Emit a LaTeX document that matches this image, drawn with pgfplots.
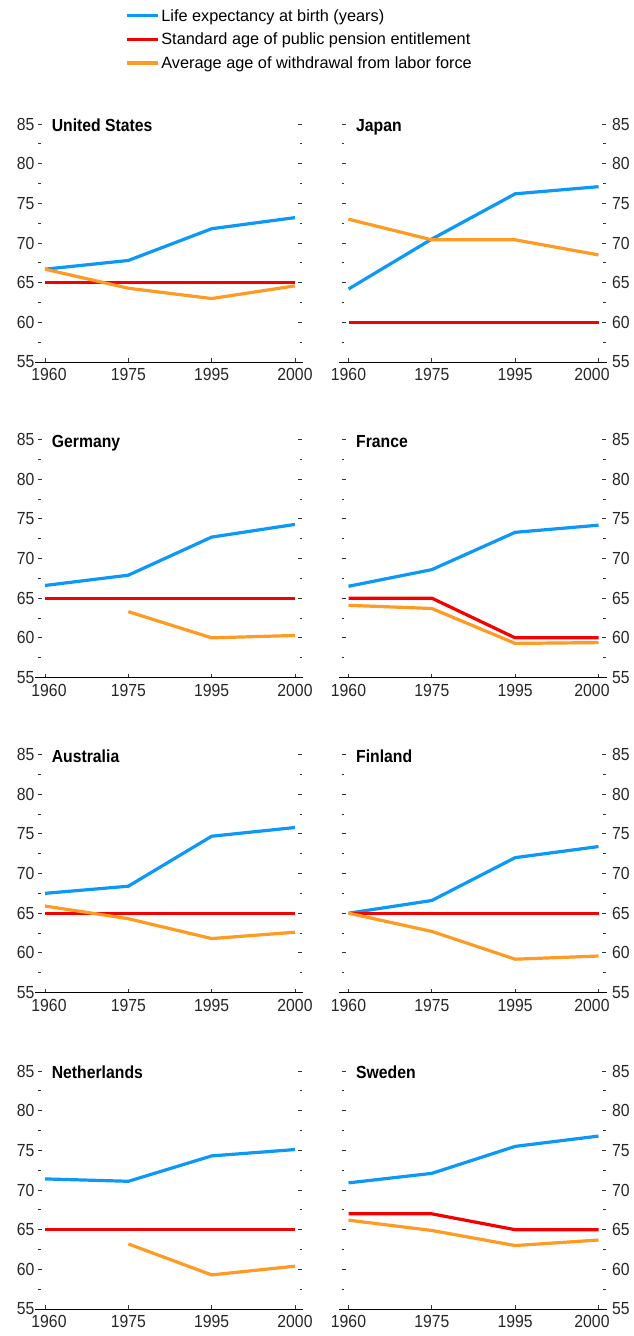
\documentclass[border=0pt]{standalone}
\usepackage{fontspec}
\setmainfont{Liberation Sans}
\newfontfamily\nfont[FakeStretch=0.9]{Liberation Sans}
\usepackage{pgfplots}
\pgfplotsset{compat=1.18}
\definecolor{cblue}{RGB}{12,152,248}
\definecolor{cred}{RGB}{245,0,0}
\definecolor{corange}{RGB}{255,154,34}
\newcommand{\fs}{\fontsize{16.3}{19.5}\selectfont}
\newcommand{\tfs}{\nfont\fontsize{17.5}{20}\selectfont}
\pgfplotsset{
  panel/.style={
    scale only axis, width=264pt, height=238pt,
    xmin=-0.084, xmax=3.084, ymin=55, ymax=85,
    xtick={0,1,2,3},
    ytick={55,60,...,85}, minor ytick={57.5,62.5,...,82.5},
    separate axis lines,
    axis x line=bottom, x axis line style={-, black, line width=1pt, shorten <=-3pt, shorten >=-1pt},
    axis y line=box, y axis line style={draw=none},
    tick align=inside,
    major tick length=4pt, minor tick length=2.5pt,
    tick style={black!80, line width=0.9pt},
    tick label style={font=\tfs, text=black!85},
    xticklabel style={yshift=-3pt},
    /pgf/number format/assume math mode=true,
    clip=false,
    every axis plot/.append style={line width=3.2pt},
  },
  leftpanel/.style={panel, yticklabel pos=left,
    xticklabels={\hspace*{8pt}1960,1975,1995,2000}},
  rightpanel/.style={panel, yticklabel pos=right, yticklabel style={xshift=3pt},
    xticklabels={1960,1975,1995,2000\hspace*{13pt}}},
}
\newcommand{\ttl}[2]{\node[anchor=base west, inner sep=0pt, font=\tfs\bfseries] at (axis cs:#1,84.0) {#2};}
\begin{document}
\begin{tikzpicture}
\useasboundingbox (0,0) rectangle (633pt,-1336pt);
% ---- Row 1 ----
\begin{axis}[leftpanel, at={(38pt,-362pt)}, anchor=south west,
  legend style={at={(axis description cs:0.318,1.50)}, anchor=north west, draw=none, fill=none,
    font=\fs, row sep=6.3pt},
  legend cell align=left,
  legend image code/.code={\draw[#1,line width=3.2pt] (0pt,0pt) -- (31pt,0pt);}]
\addplot[cblue] coordinates {(0,66.7) (1,67.8) (2,71.8) (3,73.2)};
\addlegendentry{Life expectancy at birth (years)}
\addplot[cred] coordinates {(0,65) (1,65) (2,65) (3,65)};
\addlegendentry{Standard age of public pension entitlement}
\addplot[corange] coordinates {(0,66.7) (1,64.3) (2,63.0) (3,64.6)};
\addlegendentry{Average age of withdrawal from labor force}
\ttl{0.08}{United States}
\end{axis}
\begin{axis}[rightpanel, at={(341.5pt,-362pt)}, anchor=south west]
\addplot[cblue] coordinates {(0,64.2) (1,70.5) (2,76.2) (3,77.1)};
\addplot[cred] coordinates {(0,60) (1,60) (2,60) (3,60)};
\addplot[corange] coordinates {(0,73.0) (1,70.4) (2,70.4) (3,68.5)};
\ttl{0.09}{Japan}
\end{axis}
% ---- Row 2 ----
\begin{axis}[leftpanel, at={(38pt,-677.5pt)}, anchor=south west]
\addplot[cblue] coordinates {(0,66.6) (1,67.9) (2,72.7) (3,74.3)};
\addplot[cred] coordinates {(0,65) (1,65) (2,65) (3,65)};
\addplot[corange] coordinates {(1,63.3) (2,60.0) (3,60.3)};
\ttl{0.08}{Germany}
\end{axis}
\begin{axis}[rightpanel, at={(341.5pt,-677.5pt)}, anchor=south west]
\addplot[cblue] coordinates {(0,66.5) (1,68.6) (2,73.3) (3,74.2)};
\addplot[cred] coordinates {(0,65) (1,65) (2,60) (3,60)};
\addplot[corange] coordinates {(0,64.1) (1,63.7) (2,59.3) (3,59.4)};
\ttl{0.09}{France}
\end{axis}
% ---- Row 3 ----
\begin{axis}[leftpanel, at={(38pt,-992.5pt)}, anchor=south west]
\addplot[cblue] coordinates {(0,67.5) (1,68.4) (2,74.7) (3,75.8)};
\addplot[cred] coordinates {(0,65) (1,65) (2,65) (3,65)};
\addplot[corange] coordinates {(0,65.9) (1,64.3) (2,61.8) (3,62.6)};
\ttl{0.08}{Australia}
\end{axis}
\begin{axis}[rightpanel, at={(341.5pt,-992.5pt)}, anchor=south west]
\addplot[cblue] coordinates {(0,65.0) (1,66.6) (2,72.0) (3,73.4)};
\addplot[cred] coordinates {(0,65) (1,65) (2,65) (3,65)};
\addplot[corange] coordinates {(0,65.0) (1,62.7) (2,59.2) (3,59.6)};
\ttl{0.09}{Finland}
\end{axis}
% ---- Row 4 ----
\begin{axis}[leftpanel, at={(38pt,-1309pt)}, anchor=south west]
\addplot[cblue] coordinates {(0,71.4) (1,71.1) (2,74.3) (3,75.1)};
\addplot[cred] coordinates {(0,65) (1,65) (2,65) (3,65)};
\addplot[corange] coordinates {(1,63.2) (2,59.3) (3,60.4)};
\ttl{0.08}{Netherlands}
\end{axis}
\begin{axis}[rightpanel, at={(341.5pt,-1309pt)}, anchor=south west]
\addplot[cblue] coordinates {(0,70.9) (1,72.1) (2,75.5) (3,76.8)};
\addplot[cred] coordinates {(0,67) (1,67) (2,65) (3,65)};
\addplot[corange] coordinates {(0,66.2) (1,64.9) (2,63.0) (3,63.7)};
\ttl{0.09}{Sweden}
\end{axis}
\end{tikzpicture}
\end{document}
